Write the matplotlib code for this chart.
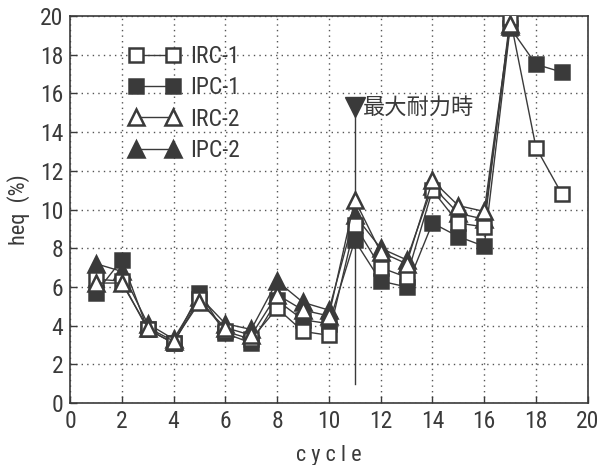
import matplotlib
matplotlib.use("Agg")
import matplotlib.pyplot as plt
from matplotlib import font_manager
import numpy as np

cycles_a = list(range(1, 20))
irc1 = [6.4, 6.3, 3.8, 3.1, 5.4, 3.7, 3.3, 4.9, 3.7, 3.5, 9.2, 7.0, 6.5, 11.0, 9.3, 9.1, 19.9, 13.2, 10.8]
ipc1 = [5.7, 7.4, 3.8, 3.1, 5.7, 3.6, 3.1, 5.3, 4.3, 4.1, 8.4, 6.3, 6.0, 9.3, 8.6, 8.1, 19.4, 17.5, 17.1]
cycles_b = list(range(1, 18))
irc2 = [6.2, 6.2, 3.9, 3.2, 5.2, 3.9, 3.5, 5.6, 4.8, 4.5, 10.5, 7.8, 7.2, 11.5, 10.2, 9.9, 19.6]
ipc2 = [7.2, 6.8, 4.1, 3.3, 5.5, 4.1, 3.8, 6.3, 5.2, 4.8, 9.7, 8.0, 7.4, 11.2, 9.8, 9.5, 19.5]
labels = ["IRC-1", "IPC-1", "IRC-2", "IPC-2"]
peak_cycle = 11
peak_top = 15.3
peak_bottom = 1.0
peak_label = "最大耐力時"
xticks = list(range(0, 21, 2))
yticks = list(range(0, 21, 2))

DARK = "#3a3a3a"
available = {f.name for f in font_manager.fontManager.ttflist}
candidates = ["Liberation Sans Narrow", "Arial Narrow", "Roboto Condensed", "Archivo Narrow",
              "PT Sans Narrow", "Pragati Narrow", "Open Sans Condensed", "Encode Sans Condensed",
              "IBM Plex Sans Condensed", "Fira Sans Condensed", "Barlow Condensed", "Saira Condensed",
              "Liberation Sans"]
narrow = next((c for c in candidates if c in available), "DejaVu Sans")
LAT = [narrow, "DejaVu Sans"]

fig = plt.figure(figsize=(6.01, 4.65), dpi=100)
ax = fig.add_axes([0.1165, 0.1333, 0.8615, 0.8323])

common = dict(color=DARK, lw=1.0, mew=1.8)
ax.plot(cycles_a, ipc1, marker="s", ms=10, mfc=DARK, mec=DARK, label=labels[1], zorder=3, **common)
ax.plot(cycles_b, ipc2, marker="^", ms=11, mfc=DARK, mec=DARK, label=labels[3], zorder=3, **common)
ax.plot(cycles_a, irc1, marker="s", ms=10, mfc="white", mec=DARK, label=labels[0], zorder=4, **common)
ax.plot(cycles_b, irc2, marker="^", ms=11, mfc="white", mec=DARK, label=labels[2], zorder=5, **common)

ax.plot([peak_cycle, peak_cycle], [peak_bottom, peak_top], color=DARK, lw=1.0, zorder=2)
ax.plot([peak_cycle], [peak_top], marker="v", ms=14, color=DARK, zorder=6)
ax.annotate(peak_label, xy=(peak_cycle, peak_top), xytext=(6, 0), textcoords="offset points",
            ha="left", va="center", fontsize=16, color=DARK,
            family=["Noto Sans CJK JP", "DejaVu Sans"])

ax.set_xlim(0, 20)
ax.set_ylim(0, 20)
ax.set_xticks(xticks)
ax.set_yticks(yticks)
ax.tick_params(direction="in", length=5, width=1, color=DARK, labelsize=17, labelcolor=DARK, pad=5)
for lab in ax.get_xticklabels() + ax.get_yticklabels():
    lab.set_family(LAT)
ax.grid(True, linestyle=(0, (1, 3)), color="#555555", lw=1.0)
for s in ax.spines.values():
    s.set_color(DARK)
    s.set_linewidth(1.2)

ax.set_xlabel("c y c l e", fontsize=16, family=LAT, color=DARK, labelpad=9)
ax.set_ylabel("heq  (%)", fontsize=16, family=LAT, color=DARK, labelpad=7)

handles, labs = ax.get_legend_handles_labels()
order = [2, 0, 3, 1]
leg = ax.legend([handles[i] for i in order], [labs[i] for i in order],
                loc="upper left", bbox_to_anchor=(0.072, 0.98), frameon=False,
                numpoints=2, handlelength=2.2, handletextpad=0.4, labelspacing=0.35,
                prop={"family": LAT, "size": 17})
for t in leg.get_texts():
    t.set_color(DARK)

fig.savefig("out.png", dpi=100, facecolor="white")
